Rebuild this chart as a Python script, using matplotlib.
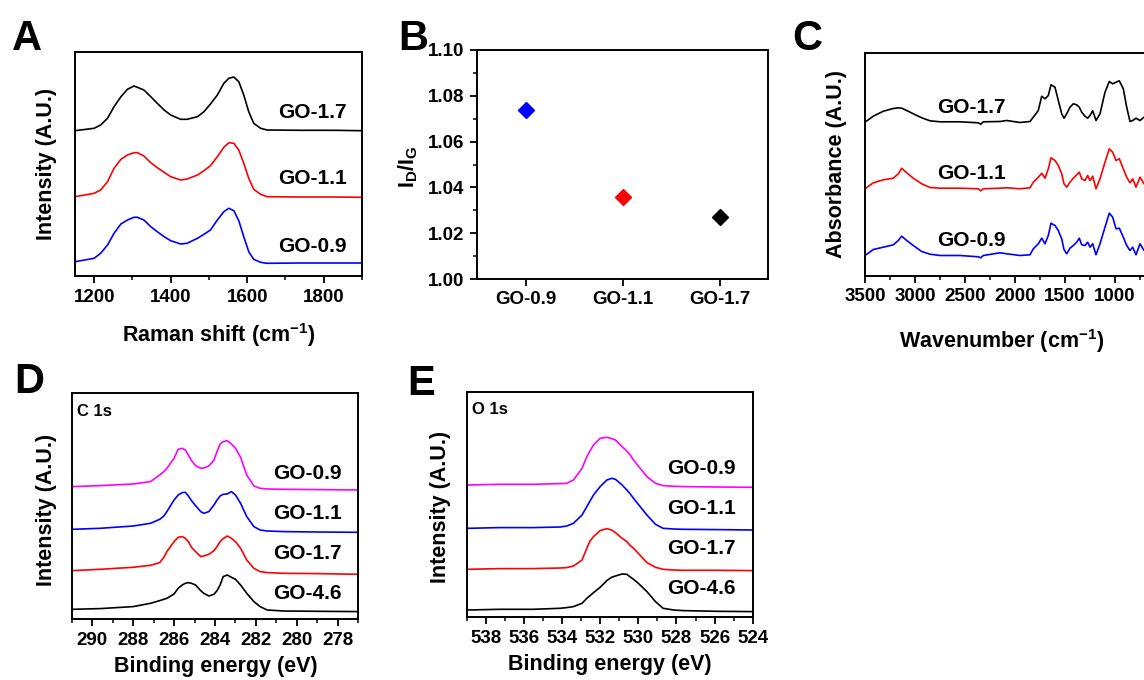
import matplotlib
matplotlib.use("Agg")
import matplotlib.pyplot as plt
from matplotlib.ticker import MultipleLocator

plt.rcParams['font.family'] = ['Liberation Sans', 'DejaVu Sans']
plt.rcParams['font.weight'] = 'bold'
plt.rcParams['axes.labelweight'] = 'bold'
plt.rcParams['mathtext.default'] = 'regular'

# ---------------- Raman spectra (A) ----------------
raman_shift = [1150, 1200, 1217, 1235, 1252, 1270, 1287, 1304, 1313, 1330, 1348, 1365,
               1383, 1400, 1426, 1443, 1470, 1487, 1504, 1522, 1539, 1552, 1565, 1578,
               1591, 1604, 1617, 1635, 1652, 1739, 1826, 1900]
raman_go17 = [145.3, 147.7, 151.0, 157.7, 169.3, 179.3, 186.7, 190.0, 188.7, 186.0, 179.3, 172.7,
              166.0, 161.0, 156.7, 156.7, 159.3, 164.3, 172.0, 181.0, 192.7, 197.7, 199.0, 194.3,
              181.0, 164.3, 152.7, 147.7, 146.0, 145.7, 145.7, 145.3]
raman_go11 = [79.3, 82.7, 86.0, 94.3, 107.7, 116.7, 121.0, 123.3, 123.3, 120.0, 113.3, 108.3,
              103.7, 99.3, 96.0, 97.0, 101.0, 105.3, 110.3, 119.3, 128.7, 133.3, 132.7, 126.0,
              112.7, 97.7, 86.7, 81.7, 79.3, 79.0, 79.0, 78.7]
raman_go09 = [14.3, 17.7, 22.7, 31.0, 42.7, 52.0, 56.0, 58.7, 58.7, 56.0, 49.3, 44.3,
              39.3, 35.3, 32.0, 32.7, 37.7, 41.7, 46.0, 56.0, 64.3, 67.7, 65.3, 55.3,
              39.3, 24.3, 16.7, 13.7, 12.7, 13.0, 13.0, 13.0]

# ---------------- ID/IG ratio (B) ----------------
samples = ['GO-0.9', 'GO-1.1', 'GO-1.7']
id_ig = [1.074, 1.036, 1.027]
ratio_colors = ['#0000ff', '#ff0000', '#000000']

# ---------------- FTIR spectra (C) ----------------
wavenumber = [3500, 3417, 3317, 3217, 3167, 3133, 3083, 3017, 2933, 2850, 2750, 2550, 2367, 2343,
              2317, 2150, 2083, 1950, 1850, 1817, 1767, 1733, 1700, 1667, 1640, 1600, 1567, 1533,
              1510, 1483, 1450, 1417, 1383, 1357, 1333, 1300, 1273, 1250, 1223, 1190, 1150, 1100,
              1057, 1023, 990, 957, 917, 883, 850, 823, 790, 750, 710, 683]
ftir_go17 = [153.3, 159.3, 164.3, 167.0, 167.7, 167.3, 165.0, 161.7, 157.7, 154.7, 153.7, 153.7,
             152.7, 151.3, 153.7, 154.0, 155.0, 153.0, 154.0, 158.3, 165.0, 179.3, 176.7, 180.0,
             190.7, 188.3, 175.0, 161.7, 157.3, 161.7, 168.3, 171.7, 170.7, 168.3, 163.3, 159.3,
             157.3, 160.0, 164.7, 155.0, 161.7, 183.3, 194.0, 191.7, 193.3, 194.7, 186.7, 168.3,
             154.0, 155.0, 157.3, 155.0, 158.3, 157.3]
ftir_go11 = [86.7, 92.7, 95.7, 97.3, 101.7, 107.3, 102.7, 97.3, 91.7, 88.0, 87.3, 87.3,
             86.7, 84.7, 86.7, 87.3, 87.7, 86.7, 87.7, 93.3, 98.3, 102.3, 97.3, 106.7,
             117.7, 115.0, 110.0, 101.7, 91.7, 88.3, 93.3, 97.3, 100.7, 103.3, 96.7, 95.0,
             100.0, 95.0, 99.3, 86.7, 96.7, 113.3, 126.7, 123.3, 115.0, 116.7, 106.7, 98.3,
             92.7, 96.7, 88.3, 98.3, 91.7, 93.3]
ftir_go09 = [20.0, 26.0, 28.3, 30.7, 35.0, 39.3, 35.0, 30.0, 24.0, 21.3, 20.0, 20.0,
             18.7, 17.7, 20.0, 22.7, 21.7, 20.0, 20.7, 26.7, 31.7, 37.3, 31.7, 40.0,
             52.3, 50.0, 45.0, 36.7, 26.0, 21.7, 27.3, 30.0, 33.3, 37.3, 30.7, 30.0,
             33.3, 28.3, 31.7, 20.7, 31.7, 48.3, 62.3, 58.3, 46.7, 47.3, 38.3, 30.0,
             25.0, 28.3, 20.7, 31.7, 25.0, 26.7]

# ---------------- XPS C 1s (D) ----------------
c1s_energy = [290.95, 289.6, 288.0, 287.15, 286.7, 286.5, 286.35, 286.0, 285.8, 285.6, 285.45,
              285.3, 285.15, 284.95, 284.7, 284.55, 284.3, 284.05, 283.9, 283.75, 283.6, 283.4,
              283.2, 283.0, 282.75, 282.45, 282.1, 281.8, 281.45, 280.65, 279.0, 277.0]
c1s_go09 = [132.7, 133.7, 135.3, 137.7, 144.3, 147.7, 151.0, 161.0, 170.0, 171.0, 169.3,
            164.3, 158.7, 153.7, 151.0, 151.3, 153.3, 159.3, 167.7, 175.3, 177.7, 178.7,
            175.3, 171.0, 162.0, 144.3, 133.3, 131.0, 130.3, 130.0, 129.7, 129.3]
c1s_go11 = [90.0, 91.0, 93.3, 96.0, 100.0, 103.3, 107.7, 119.3, 124.3, 126.7, 127.0,
            123.3, 118.7, 113.7, 107.7, 106.0, 107.7, 114.3, 119.3, 123.3, 125.0, 125.3,
            127.7, 124.3, 116.0, 102.7, 92.7, 89.3, 88.3, 87.7, 87.3, 87.0]
c1s_go17 = [48.7, 50.0, 52.0, 54.0, 56.7, 62.0, 67.7, 77.7, 82.0, 82.7, 81.0,
            77.7, 72.0, 67.7, 62.7, 63.3, 65.0, 68.7, 72.7, 77.7, 80.7, 83.3,
            81.0, 77.7, 71.0, 59.3, 51.0, 47.7, 46.7, 46.0, 45.7, 45.0]
c1s_go46 = [10.0, 10.7, 12.7, 16.0, 18.7, 20.0, 21.0, 25.3, 31.0, 34.3, 36.0,
            36.7, 36.0, 34.3, 28.7, 26.0, 23.3, 25.0, 28.7, 34.3, 42.7, 44.3,
            42.0, 40.0, 34.3, 26.0, 17.7, 12.7, 9.3, 8.3, 8.0, 7.7]

# ---------------- XPS O 1s (E) ----------------
o1s_energy = [538.9, 537.25, 535.5, 534.1, 533.75, 533.4, 532.95, 532.7, 532.55, 532.35, 532.0,
              531.65, 531.4, 531.2, 530.85, 530.6, 530.45, 530.25, 530.0, 529.55, 529.1, 528.7,
              528.15, 527.65, 525.9, 524.0]
o1s_go09 = [132.3, 133.0, 133.0, 133.7, 134.0, 137.3, 149.0, 160.7, 165.7, 172.3, 179.0,
            180.0, 178.7, 177.3, 170.7, 166.3, 163.0, 157.3, 151.3, 140.7, 134.0, 131.7,
            131.0, 130.7, 130.3, 130.0]
o1s_go11 = [89.0, 89.7, 89.7, 90.3, 91.3, 94.0, 102.3, 110.7, 115.7, 122.3, 130.7,
            137.3, 139.0, 138.0, 132.3, 127.3, 124.0, 119.0, 113.0, 102.3, 93.0, 89.0,
            88.3, 88.0, 87.7, 87.3]
o1s_go17 = [48.0, 48.7, 48.7, 49.3, 49.7, 51.3, 57.3, 69.0, 75.7, 80.7, 86.7,
            88.7, 87.3, 84.7, 79.0, 75.7, 72.3, 69.0, 64.0, 54.7, 50.0, 48.0,
            47.3, 47.0, 47.0, 46.7]
o1s_go46 = [7.3, 8.0, 8.0, 9.0, 9.7, 10.7, 14.0, 19.0, 21.3, 24.7, 30.0,
            36.7, 40.0, 41.3, 43.3, 43.0, 40.7, 38.0, 34.0, 25.7, 15.7, 9.0,
            7.3, 6.7, 6.0, 5.7]

W, H = 1144, 680
fig = plt.figure(figsize=(W / 100, H / 100), dpi=100)


def add_axes_px(left, top, right, bottom):
    return fig.add_axes([left / W, 1 - bottom / H, (right - left) / W, (bottom - top) / H])


TICK_FS = 13.5
LABEL_FS = 15.5
CURVE_FS = 15
LW = 1.2


def style_axes(ax, yticks=False):
    for s in ax.spines.values():
        s.set_linewidth(1.4)
    ax.tick_params(axis='both', which='major', direction='out', length=5, width=1.3,
                   labelsize=TICK_FS, pad=4)
    ax.tick_params(axis='both', which='minor', direction='out', length=3, width=1.1)
    ax.tick_params(axis='x', which='both', top=False)
    if not yticks:
        ax.tick_params(axis='y', which='both', left=False, right=False, labelleft=False)
    for lab in ax.get_xticklabels() + ax.get_yticklabels():
        lab.set_fontweight('bold')


def panel_letter(x, y_base, letter):
    fig.text(x / W, 1 - y_base / H, letter, fontsize=30, fontweight='bold',
             ha='left', va='baseline')


# ---- A: Raman ----
axA = add_axes_px(75, 52, 362, 276)
axA.plot(raman_shift, raman_go17, color='#000000', lw=LW)
axA.plot(raman_shift, raman_go11, color='#ff0000', lw=LW)
axA.plot(raman_shift, raman_go09, color='#0000ff', lw=LW)
axA.set_xlim(1150, 1900)
axA.set_ylim(0, 224)
axA.xaxis.set_major_locator(MultipleLocator(200))
axA.xaxis.set_minor_locator(MultipleLocator(100))
style_axes(axA)
for txt, yy in zip(['GO-1.7', 'GO-1.1', 'GO-0.9'], [164, 97.7, 29.3]):
    axA.text(1770, yy, txt, fontsize=CURVE_FS, fontweight='bold', ha='center', va='center')
axA.set_xlabel('Raman shift (cm$^{-1}$)', fontsize=LABEL_FS, fontweight='bold')
axA.xaxis.set_label_coords(0.5, -0.263)
axA.xaxis.label.set_va('center')
axA.set_ylabel('Intensity (A.U.)', fontsize=LABEL_FS, fontweight='bold')
axA.yaxis.set_label_coords(-0.098, 0.5)
axA.yaxis.label.set_va('center')
panel_letter(12, 50, 'A')

# ---- B: ID/IG ----
axB = add_axes_px(477, 50, 768, 279)
xpos = list(range(1, len(samples) + 1))
for xp, val, col in zip(xpos, id_ig, ratio_colors):
    axB.plot([xp], [val], marker='D', markersize=8, color=col, linestyle='none')
axB.set_xlim(0.5, 3.5)
axB.set_ylim(1.00, 1.10)
axB.set_xticks(xpos)
axB.set_xticklabels(samples)
axB.yaxis.set_major_locator(MultipleLocator(0.02))
axB.yaxis.set_minor_locator(MultipleLocator(0.01))
axB.yaxis.set_major_formatter(matplotlib.ticker.FormatStrFormatter('%.2f'))
style_axes(axB, yticks=True)
axB.tick_params(axis='y', which='both', right=False)
axB.set_ylabel('I$_{D}$/I$_{G}$', fontsize=LABEL_FS, fontweight='bold')
axB.yaxis.set_label_coords(-0.236, 0.49)
axB.yaxis.label.set_va('center')
panel_letter(398, 50, 'B')

# ---- C: FTIR (right part of the frame runs past the figure edge) ----
axC = add_axes_px(865, 52.5, 1146, 275.5)
axC.plot(wavenumber, ftir_go17, color='#000000', lw=LW)
axC.plot(wavenumber, ftir_go11, color='#ff0000', lw=LW)
axC.plot(wavenumber, ftir_go09, color='#0000ff', lw=LW)
axC.set_xlim(3500, 690)
axC.set_ylim(0, 223)
axC.xaxis.set_major_locator(MultipleLocator(500))
axC.xaxis.set_minor_locator(MultipleLocator(250))
style_axes(axC)
for txt, yy in zip(['GO-1.7', 'GO-1.1', 'GO-0.9'], [168.3, 101.7, 35]):
    axC.text(2433, yy, txt, fontsize=CURVE_FS, fontweight='bold', ha='center', va='center')
axC.set_xlabel('Wavenumber (cm$^{-1}$)', fontsize=LABEL_FS, fontweight='bold')
axC.xaxis.set_label_coords(0.4875, -0.294)
axC.xaxis.label.set_va('center')
axC.set_ylabel('Absorbance (A.U.)', fontsize=LABEL_FS, fontweight='bold')
axC.yaxis.set_label_coords(-0.1, 0.5)
axC.yaxis.label.set_va('center')
panel_letter(792, 50, 'C')

# ---- D: C 1s ----
axD = add_axes_px(71.7, 393.3, 358.3, 619.3)
axD.plot(c1s_energy, c1s_go09, color='#ff00ff', lw=LW)
axD.plot(c1s_energy, c1s_go11, color='#0000ff', lw=LW)
axD.plot(c1s_energy, c1s_go17, color='#ff0000', lw=LW)
axD.plot(c1s_energy, c1s_go46, color='#000000', lw=LW)
axD.set_xlim(291, 277)
axD.set_ylim(0, 226)
axD.xaxis.set_major_locator(MultipleLocator(2))
axD.xaxis.set_minor_locator(MultipleLocator(1))
style_axes(axD)
for txt, yy in zip(['GO-0.9', 'GO-1.1', 'GO-1.7', 'GO-4.6'], [146, 106, 66, 26]):
    axD.text(279.5, yy, txt, fontsize=CURVE_FS, fontweight='bold', ha='center', va='center')
axD.text(0.018, 0.919, 'C 1s', transform=axD.transAxes, fontsize=12, fontweight='bold',
         ha='left', va='center')
axD.set_xlabel('Binding energy (eV)', fontsize=LABEL_FS, fontweight='bold')
axD.xaxis.set_label_coords(0.503, -0.21)
axD.xaxis.label.set_va('center')
axD.set_ylabel('Intensity (A.U.)', fontsize=LABEL_FS, fontweight='bold')
axD.yaxis.set_label_coords(-0.087, 0.484)
axD.yaxis.label.set_va('center')
panel_letter(14, 393, 'D')

# ---- E: O 1s ----
axE = add_axes_px(466.7, 391.7, 752.7, 617.3)
axE.plot(o1s_energy, o1s_go09, color='#ff00ff', lw=LW)
axE.plot(o1s_energy, o1s_go11, color='#0000ff', lw=LW)
axE.plot(o1s_energy, o1s_go17, color='#ff0000', lw=LW)
axE.plot(o1s_energy, o1s_go46, color='#000000', lw=LW)
axE.set_xlim(539, 524)
axE.set_ylim(0, 225.6)
axE.xaxis.set_major_locator(MultipleLocator(2))
axE.xaxis.set_minor_locator(MultipleLocator(1))
style_axes(axE)
for txt, yy in zip(['GO-0.9', 'GO-1.1', 'GO-1.7', 'GO-4.6'], [149, 109, 69, 29]):
    axE.text(526.7, yy, txt, fontsize=CURVE_FS, fontweight='bold', ha='center', va='center')
axE.text(0.018, 0.919, 'O 1s', transform=axE.transAxes, fontsize=12, fontweight='bold',
         ha='left', va='center')
axE.set_xlabel('Binding energy (eV)', fontsize=LABEL_FS, fontweight='bold')
axE.xaxis.set_label_coords(0.501, -0.211)
axE.xaxis.label.set_va('center')
axE.set_ylabel('Intensity (A.U.)', fontsize=LABEL_FS, fontweight='bold')
axE.yaxis.set_label_coords(-0.093, 0.49)
axE.yaxis.label.set_va('center')
panel_letter(407, 395, 'E')

fig.savefig('out.png', dpi=100)
